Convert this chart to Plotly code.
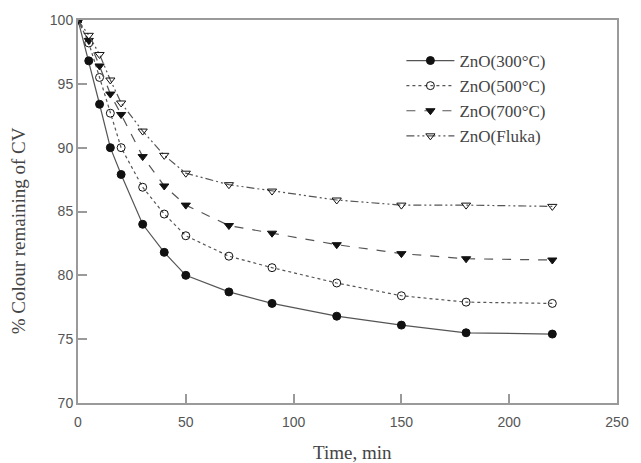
import plotly.graph_objects as go

time = [0, 5, 10, 15, 20, 30, 40, 50, 70, 90, 120, 150, 180, 220]
zno_300 = [100, 96.8, 93.4, 90.0, 87.9, 84.0, 81.8, 80.0, 78.7, 77.8, 76.8, 76.1, 75.5, 75.4]
zno_500 = [100, 98.2, 95.5, 92.7, 90.0, 86.9, 84.8, 83.1, 81.5, 80.6, 79.4, 78.4, 77.9, 77.8]
zno_700 = [100, 98.4, 96.4, 94.2, 92.6, 89.3, 87.0, 85.5, 83.9, 83.3, 82.4, 81.7, 81.3, 81.2]
zno_fluka = [100, 98.8, 97.3, 95.3, 93.5, 91.3, 89.4, 88.0, 87.1, 86.6, 85.9, 85.5, 85.5, 85.4]

names = ["ZnO(300°C)", "ZnO(500°C)", "ZnO(700°C)", "ZnO(Fluka)"]
series = [zno_300, zno_500, zno_700, zno_fluka]
symbols = ["circle", "circle-open", "triangle-down", "triangle-down-open"]
dashes = ["solid", "dot", "dash", "8px,3px,2px,3px,2px,3px"]

fig = go.Figure()
for nm, ys, sym, dsh in zip(names, series, symbols, dashes):
    fig.add_trace(go.Scatter(
        x=time, y=ys, name=nm, mode="lines+markers",
        line=dict(color="#555555", width=1.2, dash=dsh),
        marker=dict(symbol=sym, size=8, color="#111111",
                    line=dict(color="#111111", width=1)),
    ))

axis_common = dict(
    showline=True, linecolor="#9a9a9a", linewidth=2, mirror=True,
    ticks="inside", ticklen=9, tickcolor="#9a9a9a", tickwidth=1.5,
    showgrid=False, zeroline=False,
    tickfont=dict(family="Liberation Sans", size=14, color="#555555"),
)

fig.update_layout(
    width=641, height=463,
    margin=dict(l=78, r=13, t=16, b=60),
    paper_bgcolor="white", plot_bgcolor="white",
    showlegend=True,
    legend=dict(x=0.6, y=0.94, xanchor="left", yanchor="top",
                bgcolor="rgba(0,0,0,0)", tracegroupgap=0,
                itemwidth=48,
                font=dict(family="Liberation Serif", size=17, color="#444444")),
    xaxis=dict(range=[0, 250], tickvals=[0, 50, 100, 150, 200, 250],
               ticklabelstandoff=5, **axis_common),
    yaxis=dict(range=[70, 100], tickvals=[70, 75, 80, 85, 90, 95, 100], **axis_common),
)

fig.add_annotation(text="Time, min", xref="paper", yref="paper",
                   x=0.51, y=-0.13, xanchor="center", yanchor="middle", showarrow=False,
                   font=dict(family="Liberation Serif", size=19, color="#444444"))
fig.add_annotation(text="% Colour remaining of CV", xref="paper", yref="paper",
                   x=-0.11, y=0.45, xanchor="center", yanchor="middle", showarrow=False,
                   textangle=-90,
                   font=dict(family="Liberation Serif", size=19, color="#444444"))

fig.write_html("out.html")
